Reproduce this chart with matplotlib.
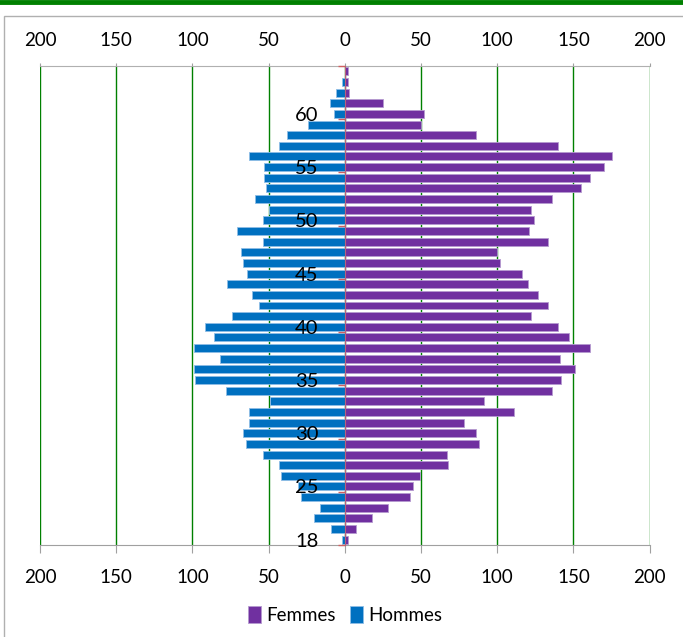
import numpy as np
import matplotlib
matplotlib.use("Agg")
import matplotlib.pyplot as plt
import matplotlib.transforms as mtrans
from matplotlib.lines import Line2D
from matplotlib.patches import Rectangle

# age categories (first one is labelled 18), bottom to top
ages = ["18", "21", "22", "23", "24", "25", "26", "27", "28", "29",
        "30", "31", "32", "33", "34", "35", "36", "37", "38", "39",
        "40", "41", "42", "43", "44", "45", "46", "47", "48", "49",
        "50", "51", "52", "53", "54", "55", "56", "57", "58", "59",
        "60", "61", "62", "63", "64"]
femmes = [2, 7, 18, 28, 43, 45, 49, 68, 67, 88,
          86, 78, 111, 91, 136, 142, 151, 141, 161, 147,
          140, 122, 133, 127, 120, 116, 102, 100, 133, 121,
          124, 122, 136, 155, 161, 170, 175, 140, 86, 50,
          52, 25, 3, 2, 2]
hommes = [2, 9, 20, 16, 29, 31, 42, 43, 54, 65,
          67, 63, 63, 49, 78, 98, 99, 82, 99, 86,
          92, 74, 56, 61, 77, 64, 67, 68, 54, 71,
          54, 50, 59, 52, 53, 53, 63, 43, 38, 24,
          7, 10, 6, 2, 0]
age_labels = ["18", "25", "30", "35", "40", "45", "50", "55", "60"]
x_ticks = [-200, -150, -100, -50, 0, 50, 100, 150, 200]

purple = "#7030A0"
blue = "#0070C0"
green = "#008000"
plt.rcParams['font.family'] = ['Lato', 'DejaVu Sans']

fig = plt.figure(figsize=(6.83, 6.37), dpi=100)
W, H = 683, 637
ax = fig.add_axes([40 / W, 1 - 545 / H, (649.7 - 40) / W, (545 - 66) / H])
ax.set_axisbelow(False)  # age labels drawn over the bars

y = np.arange(len(ages))
ax.barh(y, femmes, height=0.75, color=purple, edgecolor="#b59ad0",
        linewidth=0.6, label="Femmes", zorder=2)
ax.barh(y, -np.array(hommes), height=0.75, color=blue, edgecolor="#8fbde6",
        linewidth=0.6, label="Hommes", zorder=2)

ax.set_xlim(-200, 200)
ax.set_ylim(-0.5, len(ages) - 0.5)

# x axis labels at top and bottom, absolute values
ax.set_xticks(x_ticks)
ax.set_xticklabels([str(abs(v)) for v in x_ticks])
ax.tick_params(axis="x", top=True, labeltop=True, bottom=True,
               labelbottom=True, labelsize=13.5, color="#a0a0a0",
               length=6, pad=11)
shift = mtrans.ScaledTranslation(0, -7 / 100, fig.dpi_scale_trans)
for t in ax.xaxis.get_major_ticks():
    t.tick2line.set_markersize(2)
    t.label2.set_transform(t.label2.get_transform() + shift)
for v in x_ticks:
    ax.axvline(v, color=green, lw=1.0, zorder=1)

# category axis sits at x = 0
ax.spines["left"].set_position(("data", 0))
ax.spines["left"].set_color("#b8607a")
ax.spines["left"].set_zorder(4)
ax.spines["right"].set_visible(False)
ax.spines["top"].set_color("#b0b0b0")
ax.spines["bottom"].set_color("#a0a0a0")
lab_pos = [ages.index(a) for a in age_labels]
ax.set_yticks(lab_pos)
ax.set_yticklabels(age_labels)
ax.tick_params(axis="y", which="major", length=0, pad=19, labelsize=14.5)
ax.set_yticks([p - 0.5 for p in lab_pos] + [len(ages) - 0.5], minor=True)
ax.tick_params(axis="y", which="minor", length=5, color="#d06060", width=1)

fig.legend(loc="center", bbox_to_anchor=(345 / W, 1 - 615 / H), ncol=2,
           frameon=False, fontsize=13.5, handlelength=0.7, handleheight=1.0,
           handletextpad=0.25, columnspacing=0.8)

# chart frame and green rule
fig.add_artist(Rectangle((4 / W, -0.1), 1.2, 1 - 16 / H + 0.1,
                         transform=fig.transFigure, fill=False,
                         edgecolor="#b0b0b0", lw=1))
fig.add_artist(Line2D([0, 1], [1 - 2 / H, 1 - 2 / H],
                      transform=fig.transFigure, color=green, lw=3.5))

fig.savefig("out.png", dpi=100)
